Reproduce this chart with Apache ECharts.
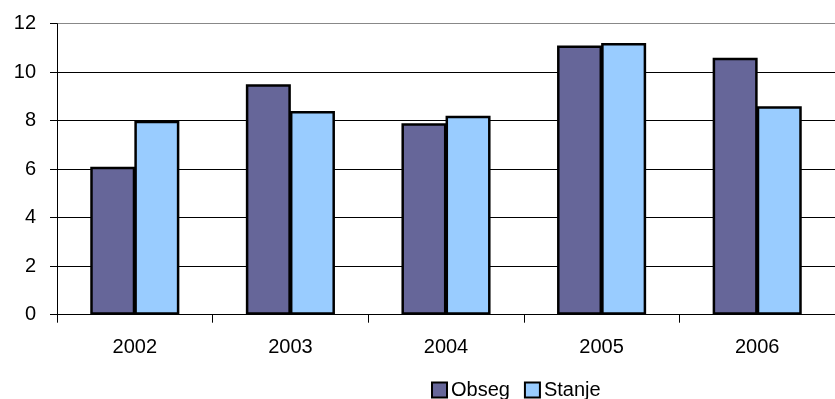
<!DOCTYPE html>
<html>
<head>
<meta charset="utf-8">
<script src="https://cdn.jsdelivr.net/npm/echarts@6/dist/echarts.min.js"></script>
<style>
  html, body { margin: 0; padding: 0; background: #fff; }
  #chart { width: 835px; height: 399px; }
</style>
</head>
<body>
<div id="chart"></div>
<script>
var years = ['2002', '2003', '2004', '2005', '2006'];
var obseg = [6.1, 9.5, 7.9, 11.1, 10.6];
var stanje = [8.0, 8.4, 8.2, 11.2, 8.6];
var yTicks = [0, 2, 4, 6, 8, 10, 12];

var chart = echarts.init(document.getElementById('chart'));
var font = 'Liberation Sans, Arial, sans-serif';

chart.setOption({
    animation: false,
    textStyle: { fontFamily: font, color: '#000' },
    legend: {
        data: ['Obseg', 'Stanje'],
        left: 431,
        top: 380,
        padding: 0,
        itemWidth: 15,
        itemHeight: 15,
        itemGap: 14,
        icon: 'rect',
        textStyle: { fontSize: 20, color: '#000', padding: [0, 0, 0, -1] }
    },
    grid: { left: 57, top: 23.7, width: 786, height: 291 },
    xAxis: {
        type: 'category',
        data: years,
        axisLine: { lineStyle: { color: '#000', width: 1 } },
        axisTick: { show: true, length: 8, lineStyle: { color: '#000' } },
        axisLabel: { fontSize: 20, color: '#000', margin: 23 }
    },
    yAxis: {
        type: 'value',
        min: yTicks[0],
        max: yTicks[yTicks.length - 1],
        interval: 2,
        axisLine: { show: true, lineStyle: { color: '#000', width: 1 } },
        axisTick: { show: true, length: 7, lineStyle: { color: '#000' } },
        axisLabel: { fontSize: 20, color: '#000', margin: 21 },
        splitLine: { lineStyle: { color: ['#000', '#000', '#000', '#000', '#000', '#000', '#888'], width: 1 } }
    },
    series: [
        {
            name: 'Obseg',
            type: 'bar',
            data: obseg,
            barWidth: 45,
            barGap: '-2%',
            itemStyle: { color: '#666699', borderColor: '#000', borderWidth: 2.5 }
        },
        {
            name: 'Stanje',
            type: 'bar',
            data: stanje,
            barWidth: 45,
            itemStyle: { color: '#99ccff', borderColor: '#000', borderWidth: 2.5 }
        }
    ]
});
</script>
</body>
</html>
